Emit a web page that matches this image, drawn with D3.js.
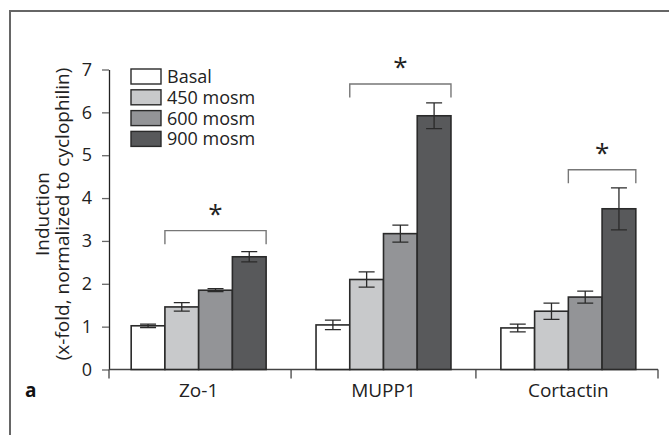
<!DOCTYPE html>
<html>
<head>
<meta charset="utf-8">
<script src="https://cdn.jsdelivr.net/npm/d3@7"></script>
<style>
  html, body { margin: 0; padding: 0; background: #fff; }
  svg { display: block; font-family: 'Open Sans', sans-serif; }
</style>
</head>
<body>
<script>
(function () {
  'use strict';

  var genes = ['Zo-1', 'MUPP1', 'Cortactin'];
  var series = ['Basal', '450 mosm', '600 mosm', '900 mosm'];
  var colors = ['#ffffff', '#c8c9cb', '#939497', '#58595b'];
  var means = [
    [1.02, 1.46, 1.85, 2.63],
    [1.04, 2.10, 3.17, 5.92],
    [0.97, 1.36, 1.69, 3.75]
  ];
  var errors = [
    [0.04, 0.10, 0.035, 0.12],
    [0.11, 0.18, 0.20, 0.30],
    [0.09, 0.19, 0.14, 0.49]
  ];
  // significance: group, first series, last series, bracket level
  var brackets = [
    { gene: 'Zo-1', from: 1, to: 3, level: 3.24 },
    { gene: 'MUPP1', from: 1, to: 3, level: 6.66 },
    { gene: 'Cortactin', from: 2, to: 3, level: 4.66 }
  ];
  var yTicks = [0, 1, 2, 3, 4, 5, 6, 7];

  var width = 669,
    height = 435,
    left = 109,
    right = 658,
    bottom = 369.5,
    top = 69.5;

  var svg = d3.select('body').append('svg')
    .attr('width', width)
    .attr('height', height);

  // frame
  svg.append('path')
    .attr('d', 'M10,' + height + 'V11H' + width)
    .attr('fill', 'none')
    .attr('stroke', '#666')
    .attr('stroke-width', 2);

  var x0 = d3.scaleBand()
    .domain(genes)
    .range([left, right])
    .paddingInner(0.27)
    .paddingOuter(0.12);

  var x1 = d3.scaleBand()
    .domain(series)
    .range([0, x0.bandwidth()]);

  var y = d3.scaleLinear()
    .domain([0, 7])
    .range([bottom, top]);

  // y axis
  var yAxis = svg.append('g')
    .attr('transform', 'translate(' + left + ',0)')
    .call(d3.axisLeft(y).tickValues(yTicks).tickFormat(d3.format('d'))
      .tickSize(7).tickSizeOuter(0).tickPadding(10));
  yAxis.select('.domain').attr('stroke', '#222').attr('stroke-width', 1.3);
  yAxis.selectAll('.tick line').attr('stroke', '#666').attr('stroke-width', 1.3);
  yAxis.selectAll('.tick text')
    .attr('font-size', 18)
    .attr('fill', '#222')
    .attr('font-family', 'Open Sans, sans-serif');

  // x axis line and group separators
  var step = x0.step();
  var sepX = [left];
  genes.forEach(function (g) {
    sepX.push(x0(g) + x0.bandwidth() + step * x0.paddingInner() / 2);
  });
  sepX[sepX.length - 1] = right;

  svg.append('line')
    .attr('x1', left).attr('x2', right)
    .attr('y1', bottom).attr('y2', bottom)
    .attr('stroke', '#444').attr('stroke-width', 1.3);

  svg.selectAll('line.sep')
    .data(sepX)
    .enter()
    .append('line')
    .attr('class', 'sep')
    .attr('x1', function (d) { return d; })
    .attr('x2', function (d) { return d; })
    .attr('y1', bottom)
    .attr('y2', bottom + 9)
    .attr('stroke', '#444')
    .attr('stroke-width', 1.3);

  svg.selectAll('text.gene')
    .data(genes)
    .enter()
    .append('text')
    .attr('class', 'gene')
    .attr('x', function (d) { return x0(d) + x0.bandwidth() / 2; })
    .attr('y', 397)
    .attr('text-anchor', 'middle')
    .attr('font-size', 19)
    .attr('fill', '#222')
    .text(function (d) { return d; });

  // bars
  var groups = svg.selectAll('g.gene')
    .data(genes)
    .enter()
    .append('g')
    .attr('class', 'gene')
    .attr('transform', function (d) { return 'translate(' + x0(d) + ',0)'; });

  groups.selectAll('rect')
    .data(function (d, i) {
      return series.map(function (s, j) {
        return { s: s, v: means[i][j], e: errors[i][j], c: colors[j] };
      });
    })
    .enter()
    .append('rect')
    .attr('x', function (d) { return x1(d.s); })
    .attr('y', function (d) { return y(d.v); })
    .attr('width', x1.bandwidth())
    .attr('height', function (d) { return bottom - y(d.v); })
    .attr('fill', function (d) { return d.c; })
    .attr('stroke', '#2a2a2a')
    .attr('stroke-width', 1.6);

  // error bars
  var capW = 8;
  groups.selectAll('path.err')
    .data(function (d, i) {
      return series.map(function (s, j) {
        return { s: s, v: means[i][j], e: errors[i][j] };
      });
    })
    .enter()
    .append('path')
    .attr('class', 'err')
    .attr('d', function (d) {
      var cx = x1(d.s) + x1.bandwidth() / 2,
        yt = y(d.v + d.e),
        yb = y(d.v - d.e);
      return 'M' + (cx - capW) + ',' + yt + 'H' + (cx + capW) +
        'M' + cx + ',' + yt + 'V' + yb +
        'M' + (cx - capW) + ',' + yb + 'H' + (cx + capW);
    })
    .attr('fill', 'none')
    .attr('stroke', '#2a2a2a')
    .attr('stroke-width', 1.3);

  // significance brackets
  brackets.forEach(function (b) {
    var xa = x0(b.gene) + x1(series[b.from]),
      xb = x0(b.gene) + x1(series[b.to]) + x1.bandwidth(),
      yl = y(b.level);
    svg.append('path')
      .attr('d', 'M' + xa + ',' + (yl + 13.5) + 'V' + yl + 'H' + xb + 'V' + (yl + 13.5))
      .attr('fill', 'none')
      .attr('stroke', '#777')
      .attr('stroke-width', 1.4);
    svg.append('text')
      .attr('x', (xa + xb) / 2)
      .attr('y', yl - 8)
      .attr('text-anchor', 'middle')
      .attr('font-size', 26)
      .attr('fill', '#222')
      .text('*');
  });

  // legend
  var legend = svg.append('g')
    .attr('transform', 'translate(131,69)');
  var item = legend.selectAll('g')
    .data(series)
    .enter()
    .append('g')
    .attr('transform', function (d, i) { return 'translate(0,' + (i * 20.8) + ')'; });
  item.append('rect')
    .attr('width', 30)
    .attr('height', 15)
    .attr('fill', function (d, i) { return colors[i]; })
    .attr('stroke', '#2a2a2a')
    .attr('stroke-width', 1.4);
  item.append('text')
    .attr('x', 36)
    .attr('y', 14)
    .attr('font-size', 18)
    .attr('fill', '#222')
    .text(function (d) { return d; });

  // y title
  var title = svg.append('text')
    .attr('transform', 'translate(0,214) rotate(-90)')
    .attr('text-anchor', 'middle')
    .attr('font-size', 19)
    .attr('fill', '#222');
  title.append('tspan').attr('x', 0).attr('y', 49).text('Induction');
  title.append('tspan').attr('x', 0).attr('y', 69).text('(x-fold, normalized to cyclophilin)');

  // panel label
  svg.append('text')
    .attr('x', 25)
    .attr('y', 397)
    .attr('font-size', 19)
    .attr('font-weight', 'bold')
    .attr('fill', '#111')
    .text('a');
}());
</script>
</body>
</html>
